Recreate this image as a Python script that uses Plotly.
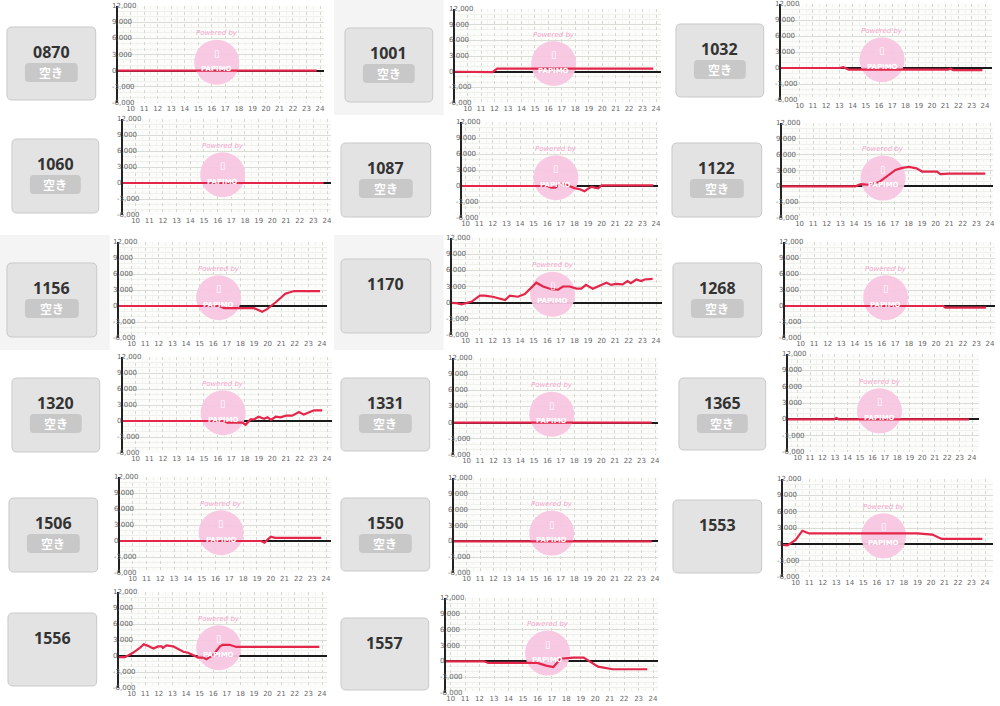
import plotly.graph_objects as go

W, H = 1000, 706

# ---------------- data ----------------
machine_ids = ["0870", "1001", "1032", "1060", "1087", "1122", "1156", "1170", "1268",
               "1320", "1331", "1365", "1506", "1550", "1553", "1556", "1557"]
vacant_flags = [True, True, True, True, True, True, True, False, True,
                True, True, True, True, True, False, False, False]
hour_ticks = list(range(10, 25))
value_ticks = [12000, 9000, 6000, 3000, 0, -3000, -6000]
value_tick_labels = ["12,000", "9,000", "6,000", "3,000", "0", "-3,000", "-6,000"]

x_0870 = [8.5, 23.75]
y_0870 = [0, 0]
x_1001 = [8.5, 11.75, 11.85, 12.2, 23.8]
y_1001 = [0, 0, -100, 600, 600]
x_1032 = [8.5, 13.0, 13.3, 13.7, 21.2, 21.4, 21.6, 23.8]
y_1032 = [0, 0, 150, -300, -300, -150, -400, -400]
x_1060 = [8.5, 23.75]
y_1060 = [0, 0]
x_1087 = [8.5, 16.0, 16.3, 16.6, 17.0, 17.3, 17.7, 18.0, 18.4, 18.75, 19.0, 19.25, 19.5, 19.75, 20.0, 23.8]
y_1087 = [0, 0, -300, -300, 450, 300, -100, -400, -600, -1000, -500, -150, -300, -450, 100, 100]
x_1122 = [8.5, 14.1, 14.5, 15.1, 15.85, 16.6, 17.05, 17.55, 18.05, 18.6, 19.0, 19.75, 20.1, 20.35, 20.95, 23.65]
y_1122 = [0, 0, 400, 300, 800, 2300, 3100, 3500, 3700, 3400, 2800, 2800, 2800, 2300, 2400, 2400]
x_1156 = [8.5, 16.45, 16.8, 19.0, 19.6, 19.95, 20.6, 21.3, 21.95, 23.85]
y_1156 = [0, 0, -400, -400, -1100, -600, 700, 2300, 2800, 2800]
x_1170 = [8.5, 9.35, 9.7, 10.05, 10.45, 11.05, 11.4, 12.0, 12.5, 12.9, 13.25, 13.85, 14.35, 14.85,
          15.2, 15.7, 16.3, 16.8, 17.15, 17.65, 18.15, 18.5, 18.85, 19.35, 19.85, 20.35, 20.7,
          21.05, 21.55, 21.9, 22.15, 22.55, 22.9, 23.15, 23.75]
y_1170 = [0, -100, -300, 0, 200, 1300, 1300, 1100, 700, 500, 1300, 1100, 1600, 2800,
          3700, 3000, 2500, 2400, 3000, 3000, 2600, 2600, 3300, 2600, 3200, 3700, 3300,
          3500, 3400, 4000, 3600, 4300, 4000, 4300, 4400]
x_1268 = [8.5, 20.55, 20.7, 23.7]
y_1268 = [0, 0, -300, -300]
x_1320 = [8.5, 16.5, 16.7, 17.8, 18.05, 18.4, 18.65, 19.0, 19.4, 19.65, 19.9, 20.25, 20.6, 21.0,
          21.45, 21.95, 22.3, 22.8, 23.05, 23.65]
y_1320 = [0, 0, -300, -300, -700, 300, 300, 800, 400, 700, 200, 800, 700, 1000,
          1000, 1700, 1200, 1700, 2000, 2000]
x_1331 = [8.5, 23.75]
y_1331 = [0, 0]
x_1365 = [8.5, 12.9, 13.1, 13.3, 23.75]
y_1365 = [0, 0, 250, 0, 0]
x_1506 = [8.5, 19.3, 19.55, 20.0, 20.3, 23.65]
y_1506 = [0, 0, -300, 800, 600, 600]
x_1550 = [8.5, 23.75]
y_1550 = [0, 0]
x_1553 = [8.5, 9.4, 10.0, 10.5, 11.0, 11.6, 19.0, 20.1, 20.8, 23.8]
y_1553 = [0, -200, 800, 2500, 2000, 2000, 2000, 1800, 1000, 1000]
x_1556 = [8.5, 9.5, 9.75, 10.1, 10.6, 10.9, 11.2, 11.6, 11.95, 12.2, 12.3, 12.55, 13.05, 13.4,
          13.8, 14.15, 14.5, 14.9, 15.25, 15.5, 16.0, 16.5, 16.7, 17.2, 17.7, 23.8]
y_1556 = [-200, -200, 100, 600, 1500, 2200, 1900, 1400, 1800, 1800, 1500, 2000, 1800, 1300,
          800, 600, 200, -300, -300, -600, 200, 1800, 2100, 2100, 1700, 1700]
x_1557 = [8.5, 12.3, 12.6, 16.0, 16.6, 17.1, 17.6, 18.5, 19.2, 20.2, 21.2, 23.6]
y_1557 = [0, 0, -300, -300, -800, -1100, 500, 700, 700, -1000, -1500, -1500]

series_x = [x_0870, x_1001, x_1032, x_1060, x_1087, x_1122, x_1156, x_1170, x_1268,
            x_1320, x_1331, x_1365, x_1506, x_1550, x_1553, x_1556, x_1557]
series_y = [y_0870, y_1001, y_1032, y_1060, y_1087, y_1122, y_1156, y_1170, y_1268,
            y_1320, y_1331, y_1365, y_1506, y_1550, y_1553, y_1556, y_1557]

# ---------------- layout geometry (pixels) ----------------
boxes = [
    (7, 27, 96, 100), (346, 28, 434, 102), (678, 24, 766, 97),
    (12, 139, 99, 213), (342, 143, 432, 217), (674, 143, 764, 217),
    (7, 263, 97, 337), (342, 259, 432, 333), (675, 263, 764, 337),
    (12, 378, 100, 452), (342, 378, 431, 451), (681, 378, 768, 450),
    (9, 498, 98, 572), (342, 498, 431, 571), (675, 500, 764, 573),
    (8, 613, 97, 686), (342, 618, 430, 690),
]
charts = [
    (118, 325, 6, 103, 131, 321), (456, 663, 9, 103, 469, 658), (783, 995, 4, 100, 802, 988),
    (123, 332, 119, 215, 136, 328), (463, 660, 122, 218, 467, 658), (784, 996, 123, 218, 802, 993),
    (119, 328, 242, 338, 132, 323), (453, 664, 238, 335, 467, 658), (787, 998, 242, 338, 803, 993),
    (123, 333, 357, 453, 136, 328), (455, 660, 358, 455, 468, 657), (790, 982, 354, 452, 800, 975),
    (120, 332, 477, 573, 133, 327), (455, 660, 478, 573, 468, 657), (785, 996, 479, 577, 798, 988),
    (119, 328, 592, 688, 132, 323), (447, 660, 598, 693, 452, 655),
]
gray_regions = [(335, 0, 445, 115), (0, 235, 110, 350), (335, 235, 445, 350)]

RED = "#e3264a"
WM_FX, WM_FY = 0.48, 0.42   # watermark position inside each plot (fraction of plot area)


def px(x):
    return x / W


def py(y):
    return 1 - y / H


def rrect_path(x0, y0, x1, y1, r):
    pts = [
        ("M", [(x0 + r, y0)]), ("L", [(x1 - r, y0)]), ("Q", [(x1, y0), (x1, y0 + r)]),
        ("L", [(x1, y1 - r)]), ("Q", [(x1, y1), (x1 - r, y1)]), ("L", [(x0 + r, y1)]),
        ("Q", [(x0, y1), (x0, y1 - r)]), ("L", [(x0, y0 + r)]), ("Q", [(x0, y0), (x0 + r, y0)]),
    ]
    s = ""
    for cmd, coords in pts:
        s += cmd + " " + " ".join(f"{px(a):.5f},{py(b):.5f}" for a, b in coords) + " "
    return s + "Z"


fig = go.Figure()
shapes = []
annotations = []
layout_axes = {}

for (gx0, gy0, gx1, gy1) in gray_regions:
    shapes.append(dict(type="rect", xref="paper", yref="paper", x0=px(gx0), x1=px(gx1),
                       y0=py(gy1), y1=py(gy0), fillcolor="#f4f4f4", line=dict(width=0), layer="below"))

YMIN, YMAX = -6000, 12000

for i, mid in enumerate(machine_ids):
    n = i + 1
    ax, rt, top, bot, x10, x24 = charts[i]
    per = (x24 - x10) / 14.0
    xmin = 10 - (x10 - ax) / per
    xmax = 24 + (rt - x24) / per
    xname = "x" if n == 1 else f"x{n}"
    yname = "y" if n == 1 else f"y{n}"
    xkey = "xaxis" if n == 1 else f"xaxis{n}"
    ykey = "yaxis" if n == 1 else f"yaxis{n}"

    layout_axes[xkey] = dict(
        domain=[px(ax), px(rt)], range=[xmin, xmax], anchor=yname,
        tickmode="array", tickvals=hour_ticks, ticktext=[str(h) for h in hour_ticks],
        ticks="", tickfont=dict(size=7, color="#666", family="DejaVu Sans"),
        showgrid=True, gridcolor="#d4d8d0", gridwidth=1, griddash="dot",
        minor=dict(tickvals=[h + 0.5 for h in range(9, 24)], showgrid=True,
                   gridcolor="#f0f2ee", gridwidth=1),
        zeroline=False, showline=False, fixedrange=True,
    )
    layout_axes[ykey] = dict(
        domain=[py(bot), py(top)], range=[YMIN, YMAX], anchor=xname,
        tickmode="array", tickvals=value_ticks, showticklabels=False, ticks="",
        showgrid=True, gridcolor="#d9ddd5", gridwidth=1,
        minor=dict(dtick=1000, tick0=0, showgrid=True, gridcolor="#eff1ec", gridwidth=1),
        zeroline=True, zerolinecolor="#1a1a1a", zerolinewidth=2,
        showline=True, linecolor="#222", linewidth=2, fixedrange=True,
    )

    # watermark disc (drawn as a marker, under the data line)
    fig.add_trace(go.Scatter(
        x=[xmin + WM_FX * (xmax - xmin)], y=[YMIN + WM_FY * (YMAX - YMIN)], mode="markers",
        marker=dict(size=45, color="#f8c6e0", opacity=0.95, line=dict(width=0)),
        xaxis=xname, yaxis=yname, hoverinfo="skip", showlegend=False, cliponaxis=False,
    ))
    fig.add_trace(go.Scatter(
        x=series_x[i], y=series_y[i], mode="lines",
        line=dict(color=RED, width=2.2, shape="linear"),
        xaxis=xname, yaxis=yname, hoverinfo="skip", showlegend=False,
    ))

    for v, t in zip(value_ticks, value_tick_labels):
        annotations.append(dict(
            text=t, xref=f"{xname} domain", yref=yname, x=0, y=v, xanchor="left",
            yanchor="middle", xshift=-8, showarrow=False,
            font=dict(size=7, color="#666", family="DejaVu Sans"),
        ))

    annotations.append(dict(
        text="<i>Powered by</i>", xref=f"{xname} domain", yref=f"{yname} domain",
        x=WM_FX, y=WM_FY, yshift=29, showarrow=False,
        font=dict(size=7, color="#f5a7cd", family="DejaVu Sans"),
    ))
    annotations.append(dict(
        text="▯", xref=f"{xname} domain", yref=f"{yname} domain",
        x=WM_FX, y=WM_FY, yshift=9, showarrow=False,
        font=dict(size=10, color="#ffffff", family="DejaVu Sans"),
    ))
    annotations.append(dict(
        text="<b>PAPIMO</b>", xref=f"{xname} domain", yref=f"{yname} domain",
        x=WM_FX, y=WM_FY, yshift=-7, showarrow=False,
        font=dict(size=7, color="#ffffff", family="DejaVu Sans"),
    ))

    # machine box
    bx0, by0, bx1, by1 = boxes[i]
    shapes.append(dict(type="path", xref="paper", yref="paper",
                       path=rrect_path(bx0, by0, bx1, by1, 5),
                       fillcolor="#e3e3e3", line=dict(color="#c9c9c9", width=1), layer="above"))
    annotations.append(dict(
        text="<b>" + mid + "</b>", xref="paper", yref="paper", x=px((bx0 + bx1) / 2), y=py(by0 + 25),
        xanchor="center", yanchor="middle", showarrow=False,
        font=dict(size=16, color="#333333", family="Noto Sans"),
    ))
    if vacant_flags[i]:
        shapes.append(dict(type="path", xref="paper", yref="paper",
                           path=rrect_path(bx0 + 18, by0 + 36, bx1 - 18, by0 + 55, 4),
                           fillcolor="#c8c8c8", line=dict(width=0), layer="above"))
        annotations.append(dict(
            text="<b>空き</b>", xref="paper", yref="paper", x=px((bx0 + bx1) / 2), y=py(by0 + 45.5),
            xanchor="center", yanchor="middle", showarrow=False,
            font=dict(size=12, color="#ffffff", family="Noto Sans CJK JP"),
        ))

fig.update_layout(
    width=W, height=H, margin=dict(l=0, r=0, t=0, b=0),
    paper_bgcolor="#ffffff", plot_bgcolor="#fcfdfb",
    shapes=shapes, annotations=annotations, showlegend=False,
    **layout_axes,
)

fig.write_html("out.html")
